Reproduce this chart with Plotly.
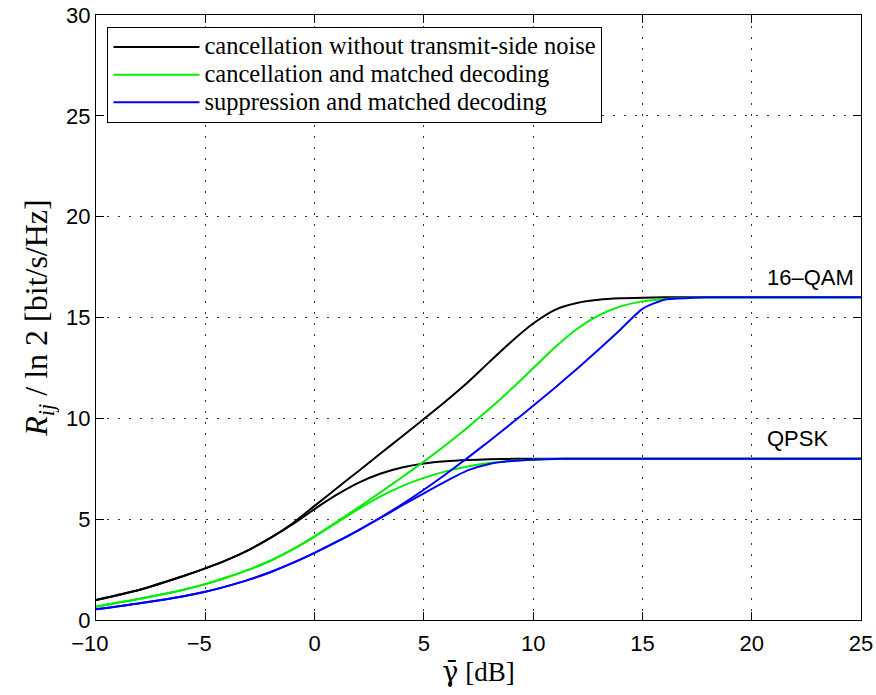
import plotly.graph_objects as go

# ---- data ----
gamma_db = [-10, -8, -6, -5, -4, -3, -2, -1, 0, 1, 2, 3, 4, 5, 6, 7, 8, 9, 10,
            11, 12, 13, 14, 15, 16, 17, 18, 20, 25]

black_16qam = [0.99, 1.5, 2.18, 2.56, 2.98, 3.48, 4.08, 4.8, 5.66, 6.52, 7.38, 8.24, 9.1, 9.97,
               10.85, 11.78, 12.8, 13.8, 14.7, 15.38, 15.72, 15.88, 15.95, 15.98, 16.0, 16.0,
               16.0, 16.0, 16.0]
black_qpsk = [0.99, 1.5, 2.18, 2.56, 2.98, 3.48, 4.08, 4.75, 5.5, 6.2, 6.8, 7.25, 7.56, 7.76,
              7.87, 7.93, 7.97, 7.99, 8.0, 8.0, 8.0, 8.0, 8.0, 8.0, 8.0, 8.0, 8.0, 8.0, 8.0]
green_16qam = [0.66, 1.05, 1.5, 1.78, 2.12, 2.5, 2.95, 3.5, 4.15, 4.86, 5.58, 6.32, 7.08, 7.86,
               8.68, 9.55, 10.47, 11.45, 12.48, 13.52, 14.43, 15.1, 15.55, 15.8, 15.92, 15.97,
               16.0, 16.0, 16.0]
green_qpsk = [0.66, 1.05, 1.5, 1.78, 2.12, 2.5, 2.95, 3.5, 4.13, 4.82, 5.5, 6.12, 6.64, 7.05,
              7.37, 7.61, 7.78, 7.89, 7.95, 7.98, 8.0, 8.0, 8.0, 8.0, 8.0, 8.0, 8.0, 8.0, 8.0]
blue_16qam = [0.53, 0.83, 1.18, 1.4, 1.68, 2.0, 2.38, 2.83, 3.33, 3.87, 4.45, 5.07, 5.74, 6.46,
              7.23, 8.04, 8.88, 9.74, 10.62, 11.52, 12.45, 13.41, 14.41, 15.43, 15.88, 15.96,
              16.0, 16.0, 16.0]
blue_qpsk = [0.53, 0.83, 1.18, 1.4, 1.68, 2.0, 2.38, 2.83, 3.33, 3.87, 4.45, 5.05, 5.68, 6.28,
             6.87, 7.42, 7.74, 7.89, 7.95, 7.98, 8.0, 8.0, 8.0, 8.0, 8.0, 8.0, 8.0, 8.0, 8.0]

series_names = ["cancellation without transmit-side noise",
                "cancellation and matched decoding",
                "suppression and matched decoding"]
series_colors = ["#000000", "#00ee00", "#0000ff"]
curves = [(black_16qam, black_qpsk), (green_16qam, green_qpsk), (blue_16qam, blue_qpsk)]

label_texts = ["16\u2013QAM", "QPSK"]
label_x = [20.6, 20.6]
label_y = [17.0, 9.0]

x_ticks = [-10, -5, 0, 5, 10, 15, 20, 25]
x_tick_text = ["\u221210\u2007", "\u22125\u2007", "0", "5", "10", "15", "20", "25"]
y_ticks = [0, 5, 10, 15, 20, 25, 30]

SANS = "Liberation Sans, Arial, sans-serif"
SERIF = "Liberation Serif, Times New Roman, serif"

fig = go.Figure()
for name, color, (c16, cq) in zip(series_names, series_colors, curves):
    fig.add_trace(go.Scatter(x=gamma_db, y=c16, mode="lines",
                             name='<span style="font-size:24.5px">' + name + "</span>",
                             legendgroup=name,
                             line=dict(color=color, width=2, shape="spline", smoothing=0.6)))
    fig.add_trace(go.Scatter(x=gamma_db, y=cq, mode="lines", name=name,
                             legendgroup=name, showlegend=False,
                             line=dict(color=color, width=2, shape="spline", smoothing=0.6)))

for t, lx, ly in zip(label_texts, label_x, label_y):
    fig.add_annotation(x=lx, y=ly, text=t, showarrow=False, xanchor="left", yanchor="middle",
                       font=dict(family=SANS, size=22, color="black"))

axis_common = dict(showline=True, linecolor="black", linewidth=1, mirror="ticks",
                   ticks="inside", ticklen=8, tickcolor="black", tickwidth=1,
                   showgrid=True, gridcolor="#333333", gridwidth=1, griddash="2px,9px",
                   zeroline=False, tickfont=dict(family=SANS, size=22, color="black"))

fig.update_xaxes(range=[-10, 25], tickvals=x_ticks, ticktext=x_tick_text,
                 ticklabelstandoff=4,
                 title=dict(text='<span style="font-family:DejaVu Serif">\u03b3\u0304</span> [dB]',
                            font=dict(family=SERIF, size=27, color="black"), standoff=6),
                 **axis_common)
fig.update_yaxes(range=[0, 30], tickvals=y_ticks,
                 title=dict(text="<i>R<sub>ij</sub></i> / ln 2 [bit/s/Hz]",
                            font=dict(family=SERIF, size=32, color="black"), standoff=8),
                 **axis_common)

fig.update_layout(
    width=876, height=695,
    margin=dict(l=96, r=15, t=15, b=75, autoexpand=False),
    plot_bgcolor="white", paper_bgcolor="white",
    showlegend=True,
    legend=dict(x=0.015, y=0.98, xanchor="left", yanchor="top",
                bgcolor="white", bordercolor="black", borderwidth=1,
                font=dict(family=SERIF, size=19, color="black"),
                itemwidth=86, tracegroupgap=0),
)

fig.write_html("out.html")
